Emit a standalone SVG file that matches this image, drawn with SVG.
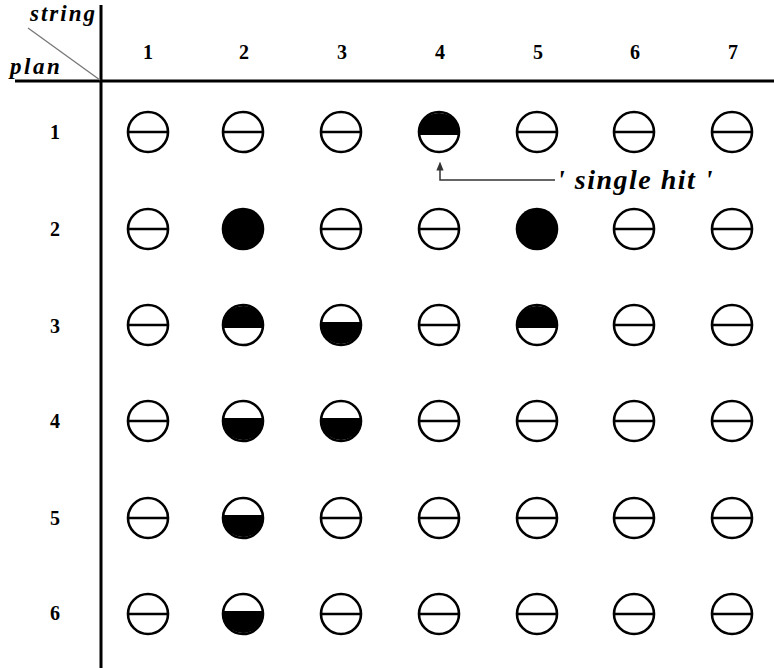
<svg xmlns="http://www.w3.org/2000/svg" xmlns:xlink="http://www.w3.org/1999/xlink" width="774" height="668" viewBox="0 0 774 668">
<style>
.num{font-family:"Liberation Serif",serif;font-weight:bold;font-size:20px;fill:#000;text-anchor:middle}
.lab{font-family:"Liberation Serif",serif;font-weight:bold;font-style:italic;fill:#000}
.ax{stroke:#000;stroke-width:3;fill:none}
.ring{fill:#fff;stroke:#000;stroke-width:2.6}
.bar{stroke:#000;stroke-width:2.6}
.conn{stroke:#333;stroke-width:1.5;fill:none}
</style>
<defs>
<g id="e"><circle class="ring" r="20"/><line class="bar" x1="-20" y1="0" x2="20" y2="0"/></g>
<g id="f"><circle r="21.3" fill="#000"/></g>
<g id="t"><circle class="ring" r="20"/><path d="M-20,2 A20,20 0 0 1 20,2 Z" fill="#000" stroke="#000" stroke-width="2"/></g>
<g id="b"><circle class="ring" r="20"/><path d="M-20,-2 A20,20 0 0 0 20,-2 Z" fill="#000" stroke="#000" stroke-width="2"/></g>
<marker id="ah" viewBox="0 0 10 10" refX="5" refY="5" markerWidth="6" markerHeight="6" orient="auto"><path d="M0,1 L10,5 L0,9 Z" fill="#333"/></marker>
</defs>
<rect width="774" height="668" fill="#fff"/>
<g id="axes">
<line class="ax" x1="101" y1="5" x2="101" y2="668"/>
<line class="ax" x1="15" y1="81" x2="774" y2="81"/>
<line x1="28" y1="28" x2="100" y2="80" stroke="#777" stroke-width="1.3"/>
<text class="lab" x="30" y="21" font-size="23" letter-spacing="2">string</text>
<text class="lab" x="10" y="74" font-size="23" letter-spacing="2.5">plan</text>
</g>
<g id="colheads">
<text class="num" x="148" y="59">1</text>
<text class="num" x="244" y="59">2</text>
<text class="num" x="342" y="59">3</text>
<text class="num" x="440" y="59">4</text>
<text class="num" x="538" y="59">5</text>
<text class="num" x="635" y="59">6</text>
<text class="num" x="733" y="59">7</text>
</g>
<g id="rowheads">
<text class="num" x="55" y="139">1</text>
<text class="num" x="55" y="236">2</text>
<text class="num" x="55" y="333">3</text>
<text class="num" x="55" y="428">4</text>
<text class="num" x="55" y="525">5</text>
<text class="num" x="55" y="620">6</text>
</g>
<g id="r1">
<use id="c1_1" xlink:href="#e" x="148" y="132"/>
<use id="c1_2" xlink:href="#e" x="243" y="132"/>
<use id="c1_3" xlink:href="#e" x="341" y="132"/>
<use id="c1_4" xlink:href="#t" x="439" y="132"/>
<use id="c1_5" xlink:href="#e" x="537" y="132"/>
<use id="c1_6" xlink:href="#e" x="634" y="132"/>
<use id="c1_7" xlink:href="#e" x="732" y="132"/>
</g>
<g id="r2">
<use id="c2_1" xlink:href="#e" x="148" y="229"/>
<use id="c2_2" xlink:href="#f" x="243" y="229"/>
<use id="c2_3" xlink:href="#e" x="341" y="229"/>
<use id="c2_4" xlink:href="#e" x="439" y="229"/>
<use id="c2_5" xlink:href="#f" x="537" y="229"/>
<use id="c2_6" xlink:href="#e" x="634" y="229"/>
<use id="c2_7" xlink:href="#e" x="732" y="229"/>
</g>
<g id="r3">
<use id="c3_1" xlink:href="#e" x="148" y="325"/>
<use id="c3_2" xlink:href="#t" x="243" y="325"/>
<use id="c3_3" xlink:href="#b" x="341" y="325"/>
<use id="c3_4" xlink:href="#e" x="439" y="325"/>
<use id="c3_5" xlink:href="#t" x="537" y="325"/>
<use id="c3_6" xlink:href="#e" x="634" y="325"/>
<use id="c3_7" xlink:href="#e" x="732" y="325"/>
</g>
<g id="r4">
<use id="c4_1" xlink:href="#e" x="148" y="421"/>
<use id="c4_2" xlink:href="#b" x="243" y="421"/>
<use id="c4_3" xlink:href="#b" x="341" y="421"/>
<use id="c4_4" xlink:href="#e" x="439" y="421"/>
<use id="c4_5" xlink:href="#e" x="537" y="421"/>
<use id="c4_6" xlink:href="#e" x="634" y="421"/>
<use id="c4_7" xlink:href="#e" x="732" y="421"/>
</g>
<g id="r5">
<use id="c5_1" xlink:href="#e" x="148" y="518"/>
<use id="c5_2" xlink:href="#b" x="243" y="518"/>
<use id="c5_3" xlink:href="#e" x="341" y="518"/>
<use id="c5_4" xlink:href="#e" x="439" y="518"/>
<use id="c5_5" xlink:href="#e" x="537" y="518"/>
<use id="c5_6" xlink:href="#e" x="634" y="518"/>
<use id="c5_7" xlink:href="#e" x="732" y="518"/>
</g>
<g id="r6">
<use id="c6_1" xlink:href="#e" x="148" y="614"/>
<use id="c6_2" xlink:href="#b" x="243" y="614"/>
<use id="c6_3" xlink:href="#e" x="341" y="614"/>
<use id="c6_4" xlink:href="#e" x="439" y="614"/>
<use id="c6_5" xlink:href="#e" x="537" y="614"/>
<use id="c6_6" xlink:href="#e" x="634" y="614"/>
<use id="c6_7" xlink:href="#e" x="732" y="614"/>
</g>
<g id="connectors">
<path class="conn" d="M555,180 L440,180 L440,166" marker-end="url(#ah)"/>
</g>
<g id="note">
<text class="lab" x="557" y="189" font-size="28" letter-spacing="1.5">' single hit '</text>
</g>
</svg>
